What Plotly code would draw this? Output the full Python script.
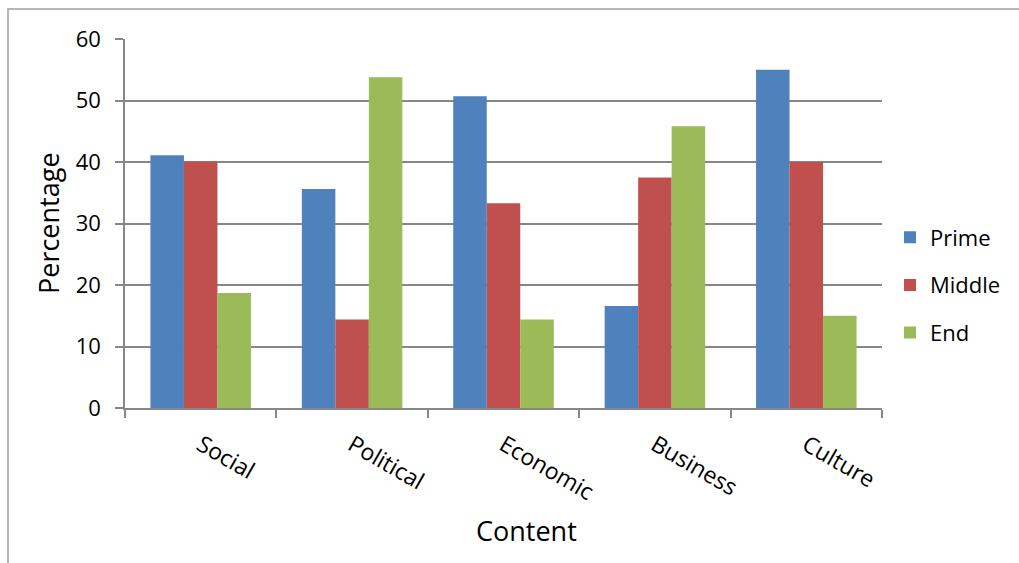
import plotly.graph_objects as go

categories = ["Social", "Political", "Economic", "Business", "Culture"]
prime = [41.1, 35.6, 50.7, 16.6, 55.0]
middle = [40.1, 14.4, 33.3, 37.5, 40.0]
end = [18.7, 53.8, 14.4, 45.8, 15.0]

series = [("Prime", prime, "#4F81BD"),
          ("Middle", middle, "#C0504D"),
          ("End", end, "#9BBB59")]

FONT = "Open Sans"
AXIS_GRAY = "#878787"

W, H = 1019, 563
ML, MR, MT, MB = 125, 137, 39, 155
PW, PH = W - ML - MR, H - MT - MB

fig = go.Figure()
for i, (name, vals, color) in enumerate(series):
    fig.add_trace(go.Bar(
        x=categories, y=vals, name=name,
        marker=dict(color=color, line=dict(width=0)),
        legendgroup=f"g{i}",
    ))

def px_x(px):
    return (px - ML) / PW

def px_y(py):
    return (H - MB - py) / PH

fig.update_layout(
    width=W, height=H,
    margin=dict(l=ML, r=MR, t=MT, b=MB, autoexpand=False),
    paper_bgcolor="white", plot_bgcolor="white",
    barmode="group", bargap=0.336, bargroupgap=0,
    font=dict(family=FONT, size=22, color="black"),
    showlegend=True,
    legend=dict(
        x=px_x(890), xanchor="left",
        y=px_y(285), yanchor="middle",
        font=dict(size=22, family=FONT),
        tracegroupgap=16, itemwidth=30,
        bgcolor="rgba(0,0,0,0)",
    ),
    xaxis=dict(
        showline=True, linecolor=AXIS_GRAY, linewidth=1.5,
        ticks="outside", ticklen=8, tickcolor=AXIS_GRAY, tickwidth=1.5,
        tickson="boundaries", tickangle=30,
        tickfont=dict(size=23, family=FONT),
        ticklabelstandoff=13,
        showgrid=False, automargin=False,
    ),
    yaxis=dict(
        range=[0, 60], dtick=10,
        showline=True, linecolor=AXIS_GRAY, linewidth=1.5,
        ticks="outside", ticklen=8, tickcolor=AXIS_GRAY, tickwidth=1.5,
        showgrid=True, gridcolor=AXIS_GRAY, gridwidth=1.5,
        tickfont=dict(size=22, family=FONT),
        ticklabelstandoff=10,
        zeroline=False, automargin=False,
    ),
    annotations=[
        dict(text="Percentage", xref="paper", yref="paper",
             x=px_x(48), y=px_y(223), xanchor="center", yanchor="middle",
             textangle=-90, showarrow=False,
             font=dict(size=27, family=FONT)),
        dict(text="Content", xref="paper", yref="paper",
             x=px_x(526), y=px_y(530), xanchor="center", yanchor="middle",
             showarrow=False, font=dict(size=27, family=FONT)),
    ],
    shapes=[
        dict(type="rect", xref="paper", yref="paper",
             x0=px_x(8), x1=px_x(W + 20), y0=px_y(H + 20), y1=px_y(9),
             line=dict(color="#A0A0A0", width=1.5), fillcolor="rgba(0,0,0,0)",
             layer="below"),
    ],
)

fig.write_html("out.html")
